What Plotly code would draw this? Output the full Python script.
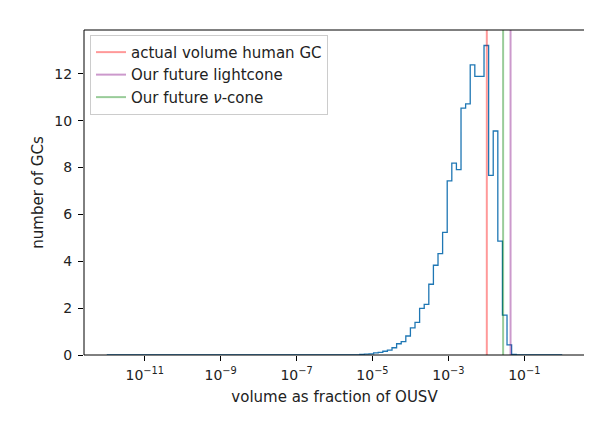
import numpy as np
import plotly.graph_objects as go

# histogram bins: logspace(-12, 0, 100) -> 99 bins
bin_edges = np.logspace(-12, 0, 100)

# counts, bins 55..88 are non-zero
counts_nonzero = [
    0.03, 0.04, 0.05, 0.09, 0.11, 0.16, 0.21, 0.31, 0.48, 0.57,
    0.81, 1.16, 1.39, 1.99, 2.16, 3.02, 3.83, 4.33, 5.23, 7.43,
    8.19, 7.91, 10.54, 10.72, 12.38, 11.89, 11.89, 13.21, 7.67, 9.56,
    4.86, 1.70, 0.43, 0.03,
]
first_bin = 55
counts = [0.0] * first_bin + counts_nonzero
counts = counts + [0.0] * (len(bin_edges) - 1 - len(counts))

# reference volumes
vol_human_gc = 0.0103
vol_lightcone = 0.0435
vol_nu_cone = 0.0277

line_names = ["actual volume human GC", "Our future lightcone", "Our future <i>ν</i>-cone"]
line_values = [vol_human_gc, vol_lightcone, vol_nu_cone]
line_colors = ["rgba(255,0,0,0.4)", "rgba(128,0,128,0.4)", "rgba(0,128,0,0.4)"]

xtick_exp = [-11, -9, -7, -5, -3, -1]
ytick_vals = [0, 2, 4, 6, 8, 10, 12]

FONT = "DejaVu Sans"

fig = go.Figure()

# step histogram outline
step_x = [bin_edges[0]] + list(bin_edges) + [bin_edges[-1]]
step_y = [0.0] + counts + [counts[-1], 0.0]
fig.add_trace(go.Scatter(
    x=step_x, y=step_y,
    mode="lines",
    line=dict(color="#1f77b4", width=1.3, shape="hv"),
    showlegend=False,
    hoverinfo="skip",
))

# axvline equivalents, on an overlay axis going 0..1
for name, val, col in zip(line_names, line_values, line_colors):
    fig.add_trace(go.Scatter(
        x=[val, val], y=[0, 1],
        yaxis="y2",
        mode="lines",
        name=name,
        legendgroup=name,
        line=dict(color=col, width=2),
    ))

lo = np.log10(bin_edges[0])
hi = np.log10(bin_edges[-1])
pad = 0.05 * (hi - lo)
ymax = max(counts) * 1.05

# frame like matplotlib spines, on top of the traces
fig.add_shape(type="rect", xref="paper", yref="paper", x0=0, y0=0, x1=1, y1=1,
              line=dict(color="black", width=1), layer="above")

# page body has an 8px margin, so the figure is a bit smaller than the window
fig.update_layout(
    width=584, height=415,
    margin=dict(l=76, r=7, t=22, b=68),
    paper_bgcolor="white",
    plot_bgcolor="white",
    font=dict(family=FONT, size=15, color="#222"),
    xaxis=dict(
        type="log",
        range=[lo - pad, hi + pad],
        tickvals=[10.0 ** e for e in xtick_exp],
        ticktext=["10<sup>−%d</sup>" % (-e) for e in xtick_exp],
        ticks="outside", ticklen=5, tickcolor="black", tickwidth=1,
        showline=False, showgrid=False, zeroline=False,
        tickfont=dict(size=14),
        ticklabelstandoff=2,
        automargin=False,
        title=dict(text="volume as fraction of OUSV", font=dict(size=15), standoff=9),
    ),
    yaxis=dict(
        range=[0, ymax],
        tickvals=ytick_vals,
        ticks="outside", ticklen=5, tickcolor="black", tickwidth=1,
        showline=False, showgrid=False, zeroline=False,
        tickfont=dict(size=14),
        ticklabelstandoff=3,
        automargin=False,
        title=dict(text="number of GCs", font=dict(size=15), standoff=7),
    ),
    yaxis2=dict(
        overlaying="y", range=[0, 1], visible=False, fixedrange=True,
    ),
    legend=dict(
        x=0.012, y=0.985, xanchor="left", yanchor="top",
        bgcolor="rgba(255,255,255,0.8)",
        bordercolor="#cccccc", borderwidth=1,
        font=dict(size=15, color="#222"),
        traceorder="grouped",
        tracegroupgap=0,
    ),
)

fig.write_html("out.html")
